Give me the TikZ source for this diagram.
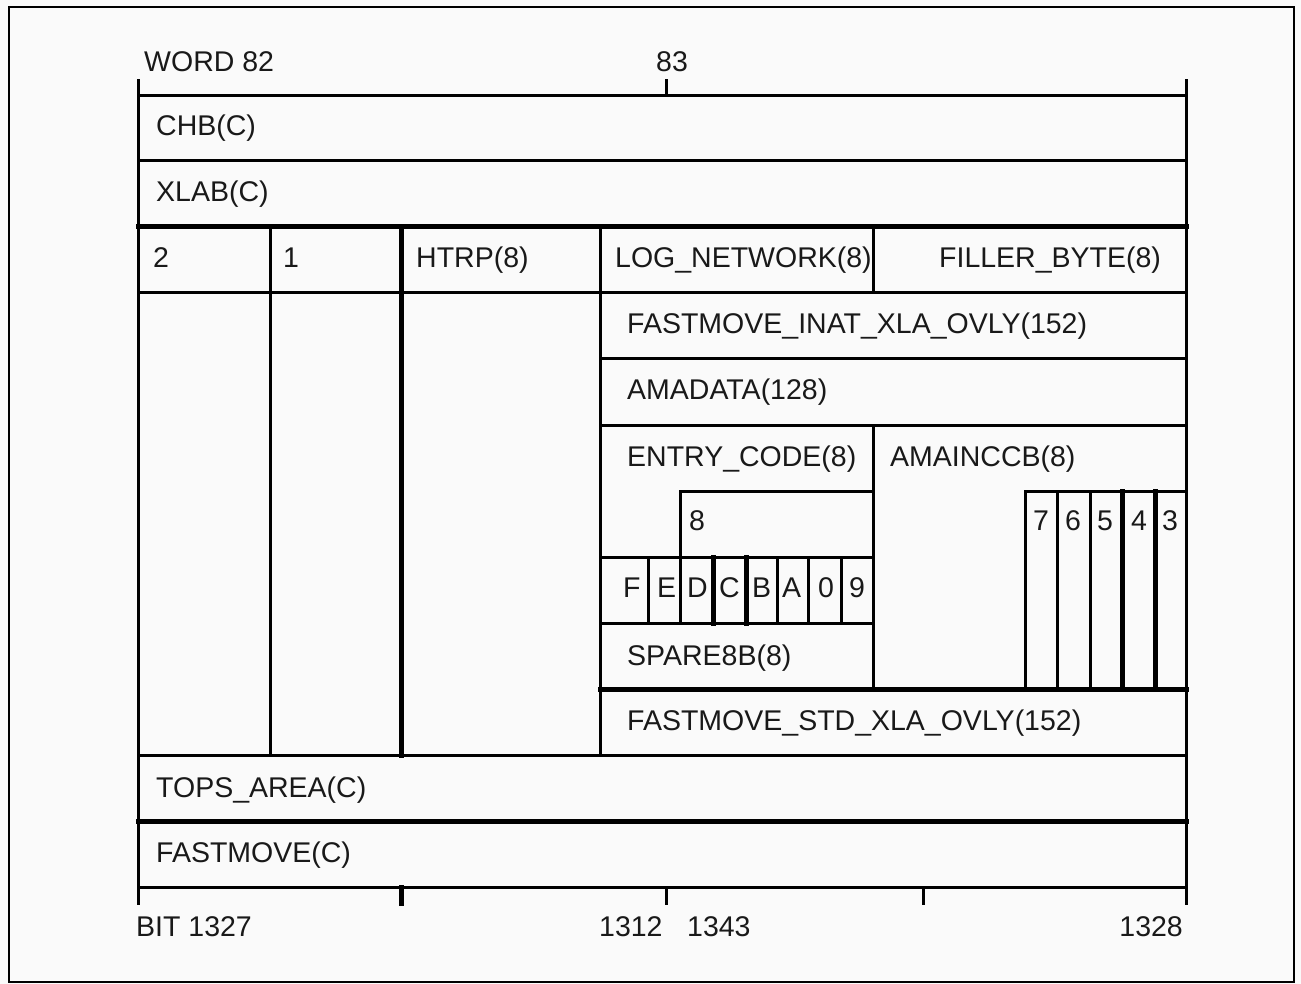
\documentclass[tikz,border=0pt]{standalone}
\usepackage{fontspec}
\setmainfont{Liberation Sans}
\begin{document}
\begin{tikzpicture}[x=1pt,y=-1pt,
  lnA/.style={line width=3pt, line cap=rect},
  lnB/.style={line width=5pt, line cap=rect},
  lbl/.style={anchor=base west, inner sep=0pt, text=black!90, font=\fontsize{28.5}{31}\selectfont},
  lblr/.style={lbl, anchor=base east}]
\useasboundingbox (0,0) rectangle (1301,984);
\fill[white!98!black] (0,0) rectangle (1301,984);
% outer frame
\draw[line width=2.8pt] (9,7) rectangle (1294,982);
% side verticals and ticks
\draw[lnA] (138,81) -- (138,903);
\draw[lnA] (1186,81) -- (1186,903);
\draw[lnA] (666,81) -- (666,96);
\draw[lnB] (401,887) -- (401,903);
\draw[lnA] (666,887) -- (666,903);
\draw[lnA] (923,887) -- (923,903);
% full rows
\draw[lnA] (138,96) -- (1186,96);
\draw[lnA] (138,161) -- (1186,161);
\draw[lnB] (138,227) -- (1186,227);
\draw[lnA] (138,293) -- (1186,293);
\draw[lnA] (138,755) -- (1186,755);
\draw[lnB] (138,821) -- (1186,821);
\draw[lnA] (138,887) -- (1186,887);
% partial rows
\draw[lnA] (600,358) -- (1186,358);
\draw[lnA] (600,425) -- (1186,425);
\draw[lnB] (600,689) -- (1186,689);
\draw[lnA] (680,491) -- (873,491);
\draw[lnA] (1025,491) -- (1186,491);
\draw[lnA] (600,557) -- (873,557);
\draw[lnA] (600,623) -- (873,623);
% column verticals
\draw[lnA] (270,227) -- (270,755);
\draw[lnB] (401,227) -- (401,755);
\draw[lnA] (600,227) -- (600,755);
\draw[lnA] (873,227) -- (873,293);
\draw[lnA] (873,425) -- (873,689);
\draw[lnA] (680,491) -- (680,623);
\foreach \x in {648,777,808,841} \draw[lnA] (\x,557) -- (\x,623);
\foreach \x in {713,746} \draw[lnB] (\x,557) -- (\x,623);
\foreach \x in {1025,1057,1090} \draw[lnA] (\x,491) -- (\x,689);
\foreach \x in {1122,1155} \draw[lnB] (\x,491) -- (\x,689);
% labels
\node[lbl] (w82) at (144,72) {WORD 82};
\node[lbl] (w83) at (656,72) {83};
\node[lbl] (chb) at (156,136) {CHB(C)};
\node[lbl] (xlab) at (156,202) {XLAB(C)};
\node[lbl] (b2) at (153,268) {2};
\node[lbl] (b1) at (283,268) {1};
\node[lbl] (htrp) at (416,268) {HTRP(8)};
\node[lbl] (lognet) at (615,268) {LOG\_NETWORK(8)};
\node[lbl] (filler) at (939,268) {FILLER\_BYTE(8)};
\node[lbl] (inat) at (627,334) {FASTMOVE\_INAT\_XLA\_OVLY(152)};
\node[lbl] (amadata) at (627,399) {AMADATA(128)};
\node[lbl] (entry) at (627,466) {ENTRY\_CODE(8)};
\node[lbl] (amainccb) at (890,466) {AMAINCCB(8)};
\node[lbl] (e8) at (689,530) {8};
\node[lbl] (bF) at (623,597) {F};
\node[lbl] (bE) at (657,597) {E};
\node[lbl] (bD) at (687,597) {D};
\node[lbl] (bC) at (719,597) {C};
\node[lbl] (bB) at (752,597) {B};
\node[lbl] (bA) at (782,597) {A};
\node[lbl] (b0) at (818,597) {0};
\node[lbl] (b9) at (849,597) {9};
\node[lbl] (b7) at (1033,530) {7};
\node[lbl] (b6) at (1065,530) {6};
\node[lbl] (b5) at (1097,530) {5};
\node[lbl] (b4) at (1131,530) {4};
\node[lbl] (b3) at (1162,530) {3};
\node[lbl] (spare) at (627,665) {SPARE8B(8)};
\node[lbl] (std) at (627,730) {FASTMOVE\_STD\_XLA\_OVLY(152)};
\node[lbl] (tops) at (156,797) {TOPS\_AREA(C)};
\node[lbl] (fm) at (156,862) {FASTMOVE(C)};
\node[lbl] (bit1327) at (136,936) {BIT 1327};
\node[lbl] (b1312) at (599,936) {1312};
\node[lbl] (b1343) at (687,936) {1343};
\node[lblr] (b1328) at (1183,936) {1328};
\end{tikzpicture}
\end{document}
